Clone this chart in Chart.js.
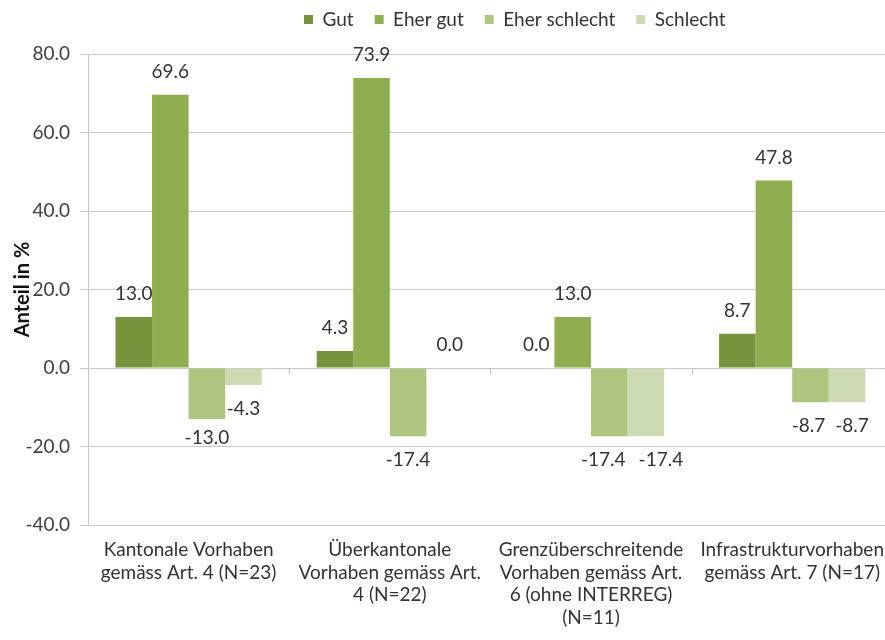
<!DOCTYPE html>
<html>
<head>
<meta charset="utf-8">
<script src="https://cdn.jsdelivr.net/npm/chart.js@4.4.1/dist/chart.umd.min.js"></script>
<style>
  html, body { margin: 0; padding: 0; background: #fff; }
  #wrap { width: 885px; height: 640px; overflow: hidden; position: relative; }
  canvas { display: block; }
</style>
</head>
<body>
<div id="wrap"><canvas id="c" width="898" height="640"></canvas></div>
<script>
const categories = [
  ['Kantonale Vorhaben', 'gemäss Art. 4 (N=23)'],
  ['Überkantonale', 'Vorhaben gemäss Art.', '4 (N=22)'],
  ['Grenzüberschreitende', 'Vorhaben gemäss Art.', '6 (ohne INTERREG)', '(N=11)'],
  ['Infrastrukturvorhaben', 'gemäss Art. 7 (N=17)']
];
const seriesNames = ['Gut', 'Eher gut', 'Eher schlecht', 'Schlecht'];
const gut = [13.0, 4.3, 0.0, 8.7];
const eherGut = [69.6, 73.9, 13.0, 47.8];
const eherSchlecht = [-13.0, -17.4, -17.4, -8.7];
const schlecht = [-4.3, 0.0, -17.4, -8.7];
const yTicks = [-40, -20, 0, 20, 40, 60, 80];

const colors = ['#77933C', '#8FAE4F', '#ADC57F', '#CCDBB1'];
const FONT = 'Lato, "Open Sans", sans-serif';
const TXT = '#333333';

// small label nudges (pixels) to avoid overlapping labels, keyed "dataset-index"
const labelNudge = { '2-0': [0, -5], '2-2': [-6, 0], '3-2': [15, 0], '2-3': [-2, 0], '3-3': [5, 0], '3-1': [5, 0] };

const dataLabels = {
  id: 'dataLabels',
  afterDatasetsDraw(chart) {
    const ctx = chart.ctx;
    ctx.save();
    ctx.font = '19px ' + FONT;
    ctx.fillStyle = TXT;
    ctx.textAlign = 'center';
    ctx.textBaseline = 'middle';
    chart.data.datasets.forEach((ds, di) => {
      const meta = chart.getDatasetMeta(di);
      meta.data.forEach((bar, i) => {
        const v = ds.data[i];
        const n = labelNudge[di + '-' + i] || [0, 0];
        const y = v >= 0 ? bar.y - 23 : bar.y + 24;
        ctx.fillText(v.toFixed(1), bar.x + n[0], y + n[1]);
      });
    });
    ctx.restore();
  }
};

const zeroTicks = {
  id: 'zeroTicks',
  afterDatasetsDraw(chart) {
    const xs = chart.scales.x, ys = chart.scales.y;
    const y0 = ys.getPixelForValue(0);
    const ctx = chart.ctx;
    ctx.save();
    ctx.strokeStyle = '#BFBFBF';
    ctx.lineWidth = 1;
    for (let i = 0; i < categories.length - 1; i++) {
      const x = Math.round((xs.getPixelForValue(i) + xs.getPixelForValue(i + 1)) / 2) + 0.5;
      ctx.beginPath();
      ctx.moveTo(x, y0);
      ctx.lineTo(x, y0 + 6);
      ctx.stroke();
    }
    ctx.restore();
  }
};

const LEGEND_PAD = 21;
const legendTweak = {
  id: 'legendTweak',
  beforeLayout(chart) {
    const lg = chart.legend;
    if (lg && !lg._wrapped) {
      const orig = lg.fit.bind(lg);
      lg.fit = function () { orig(); this.height = 54; };
      lg._wrapped = true;
    }
  },
  afterUpdate(chart) {
    const lg = chart.legend;
    if (!lg) return;
    const start = (lg.left + LEGEND_PAD + lg.right - lg.lineWidths[0]) / 2;
    const dx = 304 - start;
    lg.left += dx; lg.right += dx;
    lg.top -= 11; lg.bottom -= 11;
  }
};

new Chart(document.getElementById('c'), {
  type: 'bar',
  data: {
    labels: categories,
    datasets: [gut, eherGut, eherSchlecht, schlecht].map((d, i) => ({
      label: seriesNames[i],
      data: d,
      backgroundColor: colors[i],
      borderWidth: 0,
      categoryPercentage: 0.727,
      barPercentage: 1.0
    }))
  },
  options: {
    responsive: false,
    animation: false,
    layout: { padding: { left: 0, right: 0, top: 0, bottom: 0 } },
    plugins: {
      legend: {
        position: 'top',
        labels: {
          font: { family: FONT, size: 19 },
          color: TXT,
          boxWidth: 9,
          boxHeight: 9,
          padding: LEGEND_PAD
        }
      },
      tooltip: { enabled: false }
    },
    scales: {
      x: {
        grid: { display: false, drawTicks: false },
        border: { display: false },
        ticks: {
          font: { family: FONT, size: 19, lineHeight: 1.18 },
          color: TXT,
          maxRotation: 0,
          minRotation: 0,
          autoSkip: false,
          padding: 14
        },
        afterFit(scale) { scale.height = 115; }
      },
      y: {
        min: -40,
        max: 80,
        afterBuildTicks(scale) { scale.ticks = yTicks.map(v => ({ value: v })); },
        grid: { color: '#C8C8C8', tickLength: 8, tickColor: '#C8C8C8' },
        border: { display: true, color: '#C8C8C8' },
        ticks: {
          font: { family: FONT, size: 19 },
          color: '#404040',
          padding: 10,
          callback: v => Number(v).toFixed(1)
        },
        title: {
          display: true,
          text: 'Anteil in %',
          font: { family: FONT, size: 20, weight: 'bold' },
          color: '#111111',
          padding: { top: 11, bottom: 0 }
        },
        afterFit(scale) { scale.width = 88; }
      }
    }
  },
  plugins: [dataLabels, zeroTicks, legendTweak]
});
</script>
</body>
</html>
